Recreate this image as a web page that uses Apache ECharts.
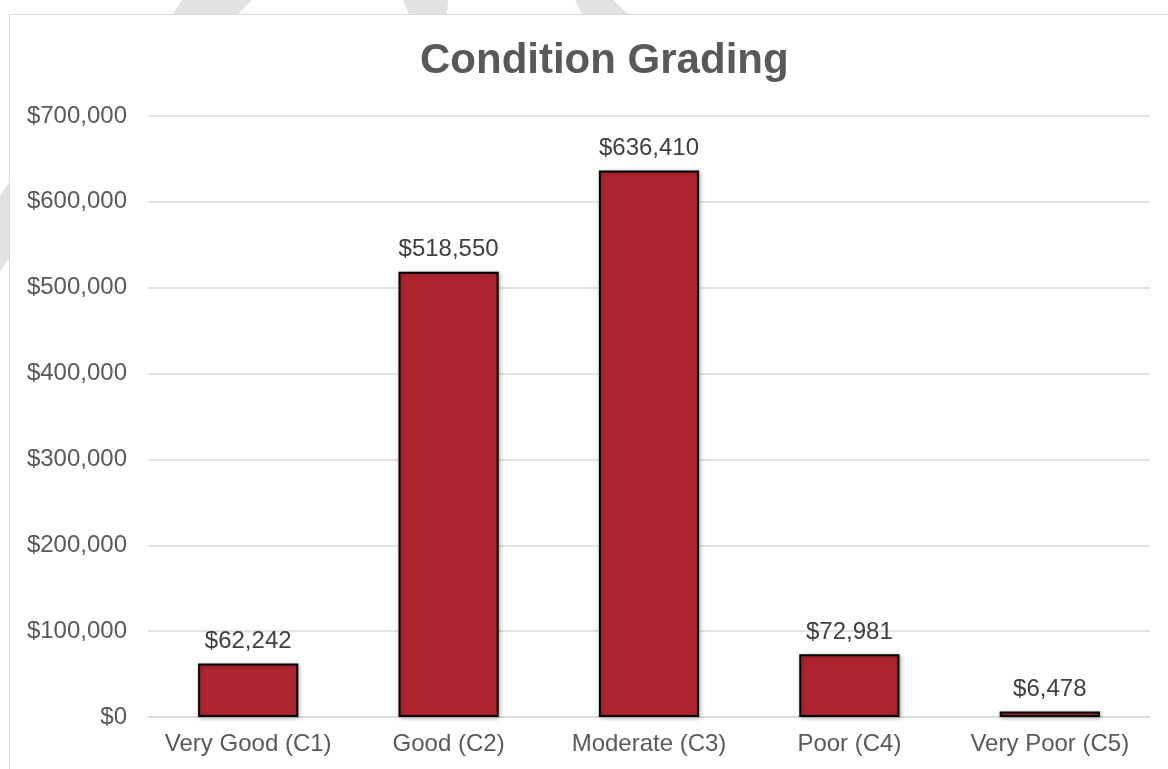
<!DOCTYPE html>
<html>
<head>
<meta charset="utf-8">
<title>Condition Grading</title>
<script src="https://cdn.jsdelivr.net/npm/echarts@6/dist/echarts.min.js"></script>
<style>
  html, body { margin: 0; padding: 0; background: #fff; }
  #chart { width: 1168px; height: 769px; }
</style>
</head>
<body>
<div id="chart"></div>
<script>
// data
const categories = ['Very Good (C1)', 'Good (C2)', 'Moderate (C3)', 'Poor (C4)', 'Very Poor (C5)']
const values = [62242, 518550, 636410, 72981, 6478]
const yTicks = { min: 0, max: 700000, interval: 100000 }

const money = v => '$' + Math.round(v).toLocaleString('en-US')

const chart = echarts.init(document.getElementById('chart'))

const option = {
  backgroundColor: '#fff',
  animation: false,
  textStyle: { fontFamily: 'Liberation Sans, Arial, sans-serif' },
  title: {
    text: 'Condition Grading',
    left: 415,
    top: 35,
    textStyle: { fontSize: 42, fontWeight: 'bold', color: '#595959', fontFamily: 'Liberation Sans, Arial, sans-serif' }
  },
  // faint watermark stripes + chart-area border
  graphic: [
    { type: 'polygon', silent: true, z: -10, shape: { points: [[182, 0], [252, 0], [238, 14], [173, 14]] }, style: { fill: '#e2e2e2' } },
    { type: 'polygon', silent: true, z: -10, shape: { points: [[403, 0], [448, 0], [447, 14], [409, 14]] }, style: { fill: '#e2e2e2' } },
    { type: 'polygon', silent: true, z: -10, shape: { points: [[575, 0], [613, 0], [628, 14], [582, 14]] }, style: { fill: '#e2e2e2' } },
    { type: 'polygon', silent: true, z: -10, shape: { points: [[0, 196], [9, 182], [9, 258], [0, 272]] }, style: { fill: '#e2e2e2' } },
    {
      type: 'rect', silent: true, z: -5,
      shape: { x: 9.5, y: 14.5, width: 1300, height: 900 },
      style: { fill: '#fff', stroke: '#d9d9d9', lineWidth: 1 }
    }
  ],
  grid: { left: 148, right: 18, top: 116, bottom: 52 },
  xAxis: {
    type: 'category',
    data: categories,
    axisLine: { lineStyle: { color: '#d9d9d9', width: 1.5 } },
    axisTick: { show: false },
    axisLabel: { color: '#595959', fontSize: 24, margin: 15, interval: 0 }
  },
  yAxis: {
    type: 'value',
    min: yTicks.min,
    max: yTicks.max,
    interval: yTicks.interval,
    axisLine: { show: false },
    axisTick: { show: false },
    axisLabel: { color: '#595959', fontSize: 24, margin: 21, formatter: money },
    splitLine: { lineStyle: { color: '#d9d9d9', width: 1.5 } }
  },
  series: [
    {
      type: 'bar',
      data: values,
      barWidth: '50%',
      itemStyle: {
        color: '#AF252F',
        borderColor: '#000',
        borderWidth: 2,
        shadowBlur: 4,
        shadowColor: 'rgba(0,0,0,0.3)',
        shadowOffsetX: 1,
        shadowOffsetY: 1
      },
      label: {
        show: true,
        position: 'top',
        distance: 10,
        fontSize: 24,
        color: '#404040',
        formatter: p => money(p.value)
      }
    }
  ]
}

chart.setOption(option)
window.addEventListener('resize', () => chart.resize())
</script>
</body>
</html>
